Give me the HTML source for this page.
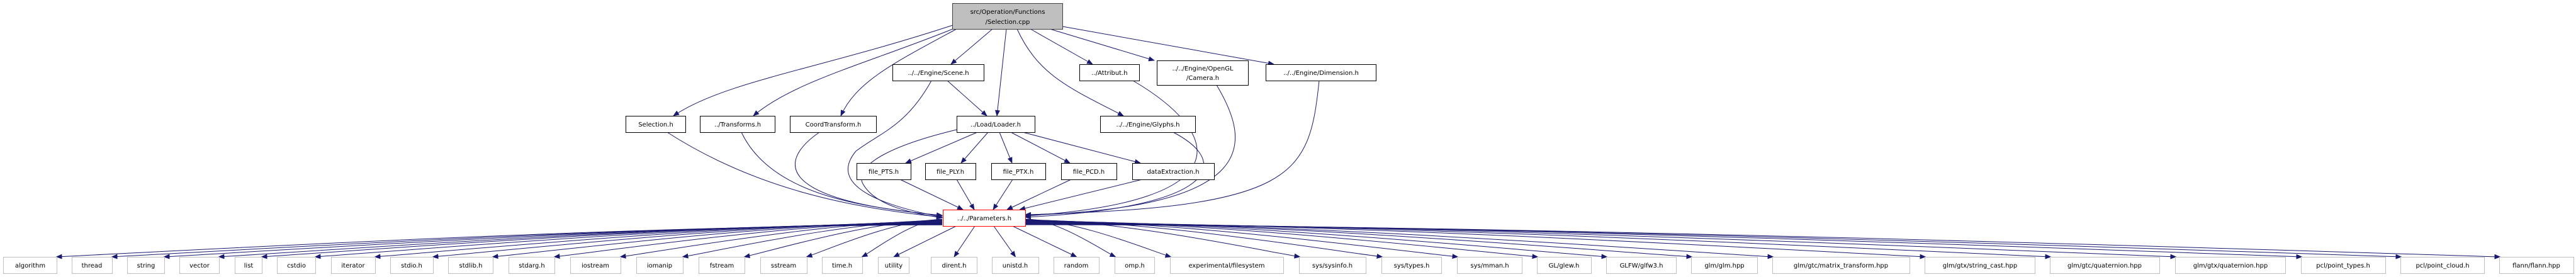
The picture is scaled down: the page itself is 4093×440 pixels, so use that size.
<!DOCTYPE html>
<html><head><meta charset="utf-8"><style>
html,body{margin:0;padding:0;background:#fff;width:4093px;height:440px;overflow:hidden}
svg{display:block}
text{font-family:"DejaVu Sans","Liberation Sans",sans-serif;font-size:10px;fill:#000}
</style></head><body>
<svg id="g" width="4093" height="440" viewBox="0 0 4093 440" xmlns="http://www.w3.org/2000/svg">
<defs><marker id="a" markerWidth="10" markerHeight="8" refX="9" refY="4" orient="auto" markerUnits="userSpaceOnUse"><path d="M0,0 L10,4 L0,8 z" fill="#191970"/></marker></defs>
<g id="edges" fill="none" stroke="#191970" stroke-width="1" marker-end="url(#a)">
<path d="M1514,40 C1300,110 1150,130 1070,184"/>
<path d="M1514,46 C1380,100 1260,130 1197,184"/>
<path d="M1520,46 C1420,100 1360,130 1336,184"/>
<path d="M1577,46 L1511,102"/>
<path d="M1599,46 L1584,184"/>
<path d="M1616,46 C1650,120 1700,140 1785,184"/>
<path d="M1637,46 L1736,102"/>
<path d="M1668,46 L1834,96"/>
<path d="M1688,42 L2024,102"/>
<path d="M1505,128 L1568,184"/>
<path d="M1480,128 C1440,200 1400,210 1360,240 C1310,300 1420,330 1497,345"/>
<path d="M1520,206 C1420,230 1360,260 1370,290 C1390,330 1460,340 1497,346"/>
<path d="M1553,210 L1439,259"/>
<path d="M1570,210 L1527,259"/>
<path d="M1588,210 L1608,259"/>
<path d="M1606,210 L1700,259"/>
<path d="M1625,210 L1812,259"/>
<path d="M1430,285 L1530,333"/>
<path d="M1520,285 L1548,333"/>
<path d="M1609,285 L1578,333"/>
<path d="M1702,285 L1600,333"/>
<path d="M1815,285 L1620,333"/>
<path d="M1060,210 C1200,300 1350,330 1497,345"/>
<path d="M1178,210 C1230,320 1400,330 1497,343"/>
<path d="M1302,210 C1230,260 1240,320 1497,342"/>
<path d="M1800,128 C1940,210 1980,320 1629,343"/>
<path d="M1933,135 C1990,230 2000,330 1629,342"/>
<path d="M2096,128 C2080,280 2060,330 1629,341"/>
<path d="M1864,210 C1960,260 1930,330 1629,345"/>
</g>
<g id="nodes" stroke-width="1">
<rect x="1513.5" y="5.5" width="175" height="41" fill="#bfbfbf" stroke="#404040"/>
<text x="1601" y="22" text-anchor="middle">src/Operation/Functions</text>
<text x="1601" y="38" text-anchor="middle">/Selection.cpp</text>
<g fill="#fff" stroke="#000">
<rect x="1418.5" y="102.5" width="145" height="26"/>
<rect x="1715.5" y="102.5" width="95" height="26"/>
<rect x="1838.5" y="96.5" width="145" height="39"/>
<rect x="2011.5" y="102.5" width="175" height="26"/>
<rect x="994.5" y="184.5" width="95" height="26"/>
<rect x="1112.5" y="184.5" width="119" height="26"/>
<rect x="1255.5" y="184.5" width="137" height="26"/>
<rect x="1520.5" y="184.5" width="124" height="26"/>
<rect x="1748.5" y="184.5" width="151" height="26"/>
<rect x="1361.5" y="259.5" width="86" height="26"/>
<rect x="1470.5" y="259.5" width="80" height="26"/>
<rect x="1575.5" y="259.5" width="86" height="26"/>
<rect x="1686.5" y="259.5" width="88" height="26"/>
<rect x="1799.5" y="259.5" width="130" height="26"/>
</g>
<rect x="1498.5" y="333.5" width="131" height="26" fill="#fff" stroke="#ff0000"/>
<text x="1491" y="119" text-anchor="middle">../../Engine/Scene.h</text>
<text x="1763" y="119" text-anchor="middle">../Attribut.h</text>
<text x="1911" y="112" text-anchor="middle">../../Engine/OpenGL</text>
<text x="1911" y="127" text-anchor="middle">/Camera.h</text>
<text x="2099" y="119" text-anchor="middle">../../Engine/Dimension.h</text>
<text x="1042" y="201" text-anchor="middle">Selection.h</text>
<text x="1172" y="201" text-anchor="middle">../Transforms.h</text>
<text x="1324" y="201" text-anchor="middle">CoordTransform.h</text>
<text x="1582" y="201" text-anchor="middle">../Load/Loader.h</text>
<text x="1824" y="201" text-anchor="middle">../../Engine/Glyphs.h</text>
<text x="1404" y="276" text-anchor="middle">file_PTS.h</text>
<text x="1510" y="276" text-anchor="middle">file_PLY.h</text>
<text x="1618" y="276" text-anchor="middle">file_PTX.h</text>
<text x="1730" y="276" text-anchor="middle">file_PCD.h</text>
<text x="1864" y="276" text-anchor="middle">dataExtraction.h</text>
<text x="1564" y="350" text-anchor="middle">../../Parameters.h</text>
</g>
<g id="bottom" fill="#fff" stroke="#bfbfbf">
<rect x="5.5" y="408.5" width="85" height="26"/><rect x="114.5" y="408.5" width="64" height="26"/><rect x="202.5" y="408.5" width="59" height="26"/><rect x="285.5" y="408.5" width="63" height="26"/><rect x="373.5" y="408.5" width="43" height="26"/><rect x="440.5" y="408.5" width="61" height="26"/><rect x="526.5" y="408.5" width="70" height="26"/><rect x="620.5" y="408.5" width="68" height="26"/><rect x="712.5" y="408.5" width="71" height="26"/><rect x="808.5" y="408.5" width="73" height="26"/><rect x="906.5" y="408.5" width="80" height="26"/><rect x="1011.5" y="408.5" width="74" height="26"/><rect x="1110.5" y="408.5" width="73" height="26"/><rect x="1208.5" y="408.5" width="74" height="26"/><rect x="1306.5" y="408.5" width="64" height="26"/><rect x="1395.5" y="408.5" width="49" height="26"/><rect x="1479.5" y="408.5" width="73" height="26"/><rect x="1576.5" y="408.5" width="74" height="26"/><rect x="1674.5" y="408.5" width="72" height="26"/><rect x="1771.5" y="408.5" width="63" height="26"/><rect x="1859.5" y="408.5" width="180" height="26"/><rect x="2064.5" y="408.5" width="106" height="26"/><rect x="2195.5" y="408.5" width="95" height="26"/><rect x="2315.5" y="408.5" width="103" height="26"/><rect x="2442.5" y="408.5" width="86" height="26"/><rect x="2552.5" y="408.5" width="111" height="26"/><rect x="2687.5" y="408.5" width="105" height="26"/><rect x="2816.5" y="408.5" width="218" height="26"/><rect x="3058.5" y="408.5" width="175" height="26"/><rect x="3257.5" y="408.5" width="174" height="26"/><rect x="3456.5" y="408.5" width="175" height="26"/><rect x="3656.5" y="408.5" width="134" height="26"/><rect x="3814.5" y="408.5" width="133" height="26"/><rect x="3971.5" y="408.5" width="118" height="26"/>
</g>
<g text-anchor="middle">
<text x="48" y="425">algorithm</text><text x="146" y="425">thread</text><text x="232" y="425">string</text><text x="317" y="425">vector</text><text x="395" y="425">list</text><text x="471" y="425">cstdio</text><text x="561" y="425">iterator</text><text x="654" y="425">stdio.h</text><text x="748" y="425">stdlib.h</text><text x="845" y="425">stdarg.h</text><text x="946" y="425">iostream</text><text x="1048" y="425">iomanip</text><text x="1147" y="425">fstream</text><text x="1245" y="425">sstream</text><text x="1338" y="425">time.h</text><text x="1420" y="425">utility</text><text x="1516" y="425">dirent.h</text><text x="1613" y="425">unistd.h</text><text x="1710" y="425">random</text><text x="1803" y="425">omp.h</text><text x="1949" y="425">experimental/filesystem</text><text x="2117" y="425">sys/sysinfo.h</text><text x="2243" y="425">sys/types.h</text><text x="2367" y="425">sys/mman.h</text><text x="2485" y="425">GL/glew.h</text><text x="2608" y="425">GLFW/glfw3.h</text><text x="2740" y="425">glm/glm.hpp</text><text x="2925" y="425">glm/gtc/matrix_transform.hpp</text><text x="3146" y="425">glm/gtx/string_cast.hpp</text><text x="3344" y="425">glm/gtc/quaternion.hpp</text><text x="3544" y="425">glm/gtx/quaternion.hpp</text><text x="3723" y="425">pcl/point_types.h</text><text x="3881" y="425">pcl/point_cloud.h</text><text x="4030" y="425">flann/flann.hpp</text>
</g>
</svg>
<script>
(function(){
var ns="http://www.w3.org/2000/svg",eg=document.getElementById('edges');
var rs=document.querySelectorAll('#bottom rect');
var li=0,ri=0;
for(var i=0;i<rs.length;i++){
 var x=+rs[i].getAttribute('x'),w=+rs[i].getAttribute('width'),c=x+w/2,sx,sy,tx,ty=408,d;
 if(c<1350){sx=1497;sy=348+Math.min(10,(1350-c)/140);tx=x+w-1;
  d="M"+sx+","+sy+" C"+(sx-(sx-tx)*0.35)+","+sy+" "+(tx+(sx-tx)*0.12)+","+(ty-8)+" "+tx+","+ty;}
 else if(c>1780){sx=1630;sy=348+Math.min(10,(c-1780)/250);tx=x+1;
  d="M"+sx+","+sy+" C"+(sx+(tx-sx)*0.35)+","+sy+" "+(tx-(tx-sx)*0.12)+","+(ty-8)+" "+tx+","+ty;}
 else{sx=1498+(c-1350)*132/430;sy=359;tx=c;d="M"+sx+","+sy+" L"+tx+","+ty;}
 var p=document.createElementNS(ns,'path');p.setAttribute('d',d);eg.appendChild(p);
}
})();
</script>
</body></html>
